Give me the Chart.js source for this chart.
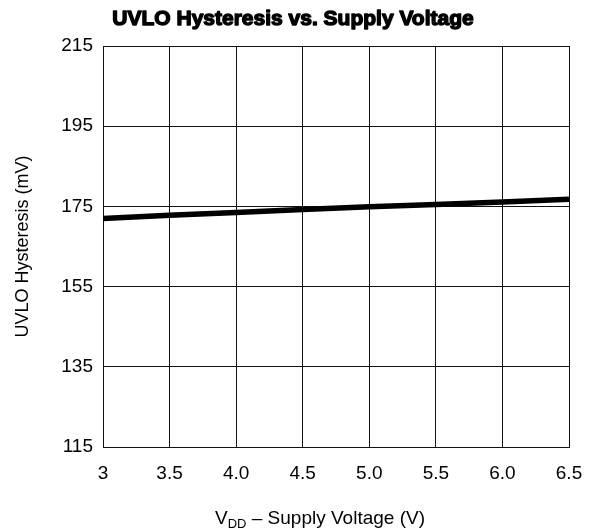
<!DOCTYPE html>
<html>
<head>
<meta charset="utf-8">
<script src="https://cdn.jsdelivr.net/npm/chart.js@4/dist/chart.umd.min.js"></script>
<style>
  html, body { margin: 0; padding: 0; background: #fff; }
  #wrap { width: 592px; height: 528px; position: relative; }
</style>
</head>
<body>
<div id="wrap"><canvas id="chart"></canvas></div>
<script>
// UVLO hysteresis vs supply voltage
const supplyVoltage = [3.0, 3.5, 4.0, 4.5, 5.0, 5.5, 6.0, 6.5];
const hysteresis = [172.0, 172.8, 173.5, 174.2, 174.9, 175.5, 176.1, 176.8];
const yTicks = [115, 135, 155, 175, 195, 215];
const xTicks = [3, 3.5, 4.0, 4.5, 5.0, 5.5, 6.0, 6.5];

const FONT = "'Liberation Sans', Arial, sans-serif";

// heavy title + x axis title with subscript "DD"
const textPlugin = {
    id: "texts",
    afterDraw(chart) {
        const ctx = chart.ctx;
        ctx.save();
        ctx.fillStyle = "#000";
        ctx.strokeStyle = "#000";

        // title, thickened with a stroke
        ctx.font = "bold 21px " + FONT;
        ctx.textAlign = "center";
        ctx.textBaseline = "middle";
        ctx.lineWidth = 1.4;
        ctx.lineJoin = "round";
        ctx.fillText("UVLO Hysteresis vs. Supply Voltage", 293, 19);
        ctx.strokeText("UVLO Hysteresis vs. Supply Voltage", 293, 19);

        // x axis title
        const y = 519;
        const big = "19px " + FONT;
        const small = "13px " + FONT;
        ctx.font = big;
        const wV = ctx.measureText("V").width;
        const rest = " \u2013 Supply Voltage (V)";
        const wRest = ctx.measureText(rest).width;
        ctx.font = small;
        const wSub = ctx.measureText("DD").width;
        let x = 320 - (wV + wSub + wRest) / 2;
        ctx.textAlign = "left";
        ctx.font = big;
        ctx.fillText("V", x, y);
        x += wV;
        ctx.font = small;
        ctx.fillText("DD", x, y + 5);
        x += wSub;
        ctx.font = big;
        ctx.fillText(rest, x, y);
        ctx.restore();
    }
};

new Chart(document.getElementById("chart"), {
    type: "line",
    data: {
        datasets: [{
            data: supplyVoltage.map((v, i) => ({ x: v, y: hysteresis[i] })),
            borderColor: "#000",
            borderWidth: 5.5,
            pointRadius: 0,
            tension: 0,
            fill: false,
        }]
    },
    options: {
        responsive: true,
        maintainAspectRatio: false,
        animation: false,
        layout: { padding: { left: 0, right: 23, top: 46, bottom: 0 } },
        plugins: {
            legend: { display: false },
            tooltip: { enabled: false },
            title: { display: false },
        },
        scales: {
            x: {
                type: "linear",
                min: xTicks[0],
                max: xTicks[xTicks.length - 1],
                afterBuildTicks: (scale) => { scale.ticks = xTicks.map(v => ({ value: v })); },
                afterFit: (scale) => {
                    scale.height = 81;
                    scale.paddingLeft = 0;
                    scale.paddingRight = 0;
                },
                grid: { color: "#111", lineWidth: 1, drawTicks: false },
                border: { color: "#111", width: 1 },
                ticks: {
                    color: "#000",
                    font: { family: FONT, size: 19 },
                    padding: 15,
                    maxRotation: 0,
                    callback: (v) => (v === 3 ? "3" : Number(v).toFixed(1)),
                },
            },
            y: {
                min: yTicks[0],
                max: yTicks[yTicks.length - 1],
                afterBuildTicks: (scale) => { scale.ticks = yTicks.map(v => ({ value: v })); },
                afterFit: (scale) => {
                    scale.width = 103;
                    scale.paddingTop = 0;
                    scale.paddingBottom = 0;
                },
                grid: { color: "#111", lineWidth: 1, drawTicks: false },
                border: { color: "#111", width: 1 },
                ticks: {
                    color: "#000",
                    font: { family: FONT, size: 19 },
                    padding: 10,
                },
                title: {
                    display: true,
                    text: "UVLO Hysteresis (mV)",
                    color: "#000",
                    font: { family: FONT, size: 18 },
                    padding: { top: 12, bottom: 0 },
                },
            },
        },
    },
    plugins: [textPlugin],
});
</script>
</body>
</html>
